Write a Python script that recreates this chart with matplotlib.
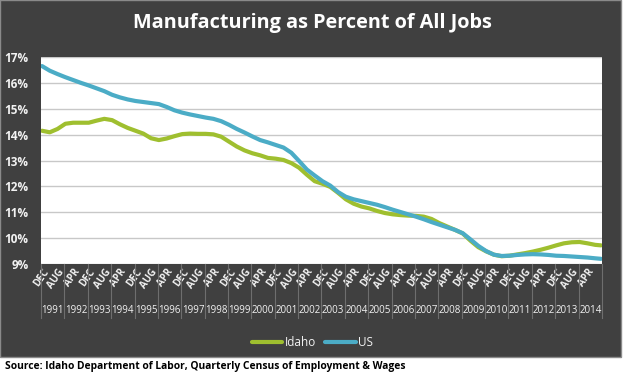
import matplotlib.pyplot as plt
import matplotlib.transforms as mtransforms
from matplotlib.patches import Rectangle

# ---------------- DATA ----------------
# month index: 0 = DEC 1990, one step = one month, 288 months (24 year groups)
MONTHS = list(range(0, 288, 4)) + [287]

IDAHO = [14.15, 14.09, 14.22, 14.42, 14.46, 14.46, 14.46, 14.54, 14.61, 14.56,
         14.40, 14.26, 14.15, 14.04, 13.86, 13.79, 13.85, 13.94, 14.02, 14.04,
         14.03, 14.03, 14.01, 13.92, 13.73, 13.54, 13.39, 13.28, 13.20, 13.10,
         13.07, 13.02, 12.90, 12.72, 12.45, 12.20, 12.10, 11.98, 11.75, 11.50,
         11.33, 11.22, 11.15, 11.05, 10.97, 10.92, 10.89, 10.87, 10.86, 10.83,
         10.74, 10.58, 10.45, 10.32, 10.18, 9.90, 9.65, 9.49, 9.36, 9.30,
         9.32, 9.37, 9.42, 9.48, 9.55, 9.63, 9.72, 9.80, 9.84, 9.85,
         9.80, 9.74, 9.72]

US = [16.65, 16.47, 16.34, 16.22, 16.11, 16.00, 15.90, 15.79, 15.68, 15.54,
      15.44, 15.36, 15.30, 15.26, 15.22, 15.18, 15.07, 14.94, 14.85, 14.78,
      14.72, 14.66, 14.61, 14.52, 14.38, 14.22, 14.08, 13.93, 13.79, 13.70,
      13.60, 13.50, 13.30, 12.98, 12.65, 12.42, 12.20, 12.03, 11.78, 11.60,
      11.50, 11.43, 11.36, 11.29, 11.20, 11.10, 11.01, 10.92, 10.83, 10.73,
      10.62, 10.52, 10.42, 10.32, 10.19, 9.95, 9.70, 9.50, 9.36, 9.31,
      9.32, 9.35, 9.37, 9.38, 9.37, 9.35, 9.32, 9.31, 9.29, 9.27,
      9.25, 9.22, 9.20]

MONTH_LABELS = ["DEC", "AUG", "APR"]
YEARS = list(range(1991, 2015))
Y_TICKS = list(range(9, 18))
# --------------------------------------

BG = "#404040"
IDAHO_COLOR = "#9fbf2f"
US_COLOR = "#4bacc6"
FONT = ["Open Sans", "DejaVu Sans"]

fig = plt.figure(figsize=(6.25, 3.77), dpi=100)
fig.patch.set_facecolor("white")

# dark panel behind the chart
panel = Rectangle((0, 1 - 357 / 377), 621 / 625, 357 / 377, transform=fig.transFigure,
                  facecolor=BG, edgecolor="#8a8a8a", lw=1, zorder=-1)
fig.add_artist(panel)

ax = fig.add_axes([41 / 625, 1 - 264 / 377, 561 / 625, 207 / 377])
ax.set_facecolor("white")

ax.plot(MONTHS, IDAHO, color=IDAHO_COLOR, lw=3, label="Idaho", solid_capstyle="round")
ax.plot(MONTHS, US, color=US_COLOR, lw=3, label="US", solid_capstyle="round")

ax.set_xlim(-0.5, 287.5)
ax.set_ylim(9, 17)
ax.set_yticks(Y_TICKS)
ax.set_yticklabels([f"{v}%" for v in Y_TICKS], color="#f2f2f2", fontsize=8.5,
                   fontweight="bold", family=FONT)
ax.grid(axis="y", color="#c8c8c8", lw=1)
ax.set_axisbelow(True)
for s in ax.spines.values():
    s.set_visible(False)
ax.tick_params(length=0)
ax.tick_params(axis="y", pad=9)

# month labels every 8 months
month_ticks = list(range(0, 288, 8))
ax.set_xticks(month_ticks)
ax.set_xticklabels([MONTH_LABELS[k % 3] for k in range(len(month_ticks))],
                   rotation=55, ha="right", va="top", rotation_mode="anchor",
                   color="#f2f2f2", fontsize=7, fontweight="bold", family=FONT)
ax.tick_params(axis="x", pad=2)

# year groups: separators and labels
trans = mtransforms.blended_transform_factory(ax.transData, ax.transAxes)
for k, yr in enumerate(YEARS):
    ax.plot([12 * k - 0.5, 12 * k - 0.5], [0, -0.26], transform=trans, clip_on=False,
            color="#6e6e6e", lw=0.8)
    ax.text(12 * k + 5.5, -0.225, str(yr), transform=trans, ha="center", va="center",
            color="#f2f2f2", fontsize=7, family=FONT)
ax.plot([287.5, 287.5], [0, -0.26], transform=trans, clip_on=False, color="#6e6e6e", lw=0.8)

fig.text(0.5, 1 - 23 / 377, "Manufacturing as Percent of All Jobs", ha="center", va="center",
         color="white", fontsize=14.3, fontweight="bold", family=FONT)

leg = fig.legend(loc="center", bbox_to_anchor=(0.5, 1 - 343 / 377), ncol=2, frameon=False,
                 handlelength=2.6, handletextpad=0.2, columnspacing=0.8,
                 prop={"family": FONT, "size": 8.5})
for t in leg.get_texts():
    t.set_color("#f2f2f2")

fig.text(0.008, 1 - 366 / 377, "Source: Idaho Department of Labor, Quarterly Census of Employment & Wages",
         ha="left", va="center", color="black", fontsize=7.4, fontweight="bold", family=FONT)

fig.savefig("out.png", dpi=100, facecolor=fig.get_facecolor())
